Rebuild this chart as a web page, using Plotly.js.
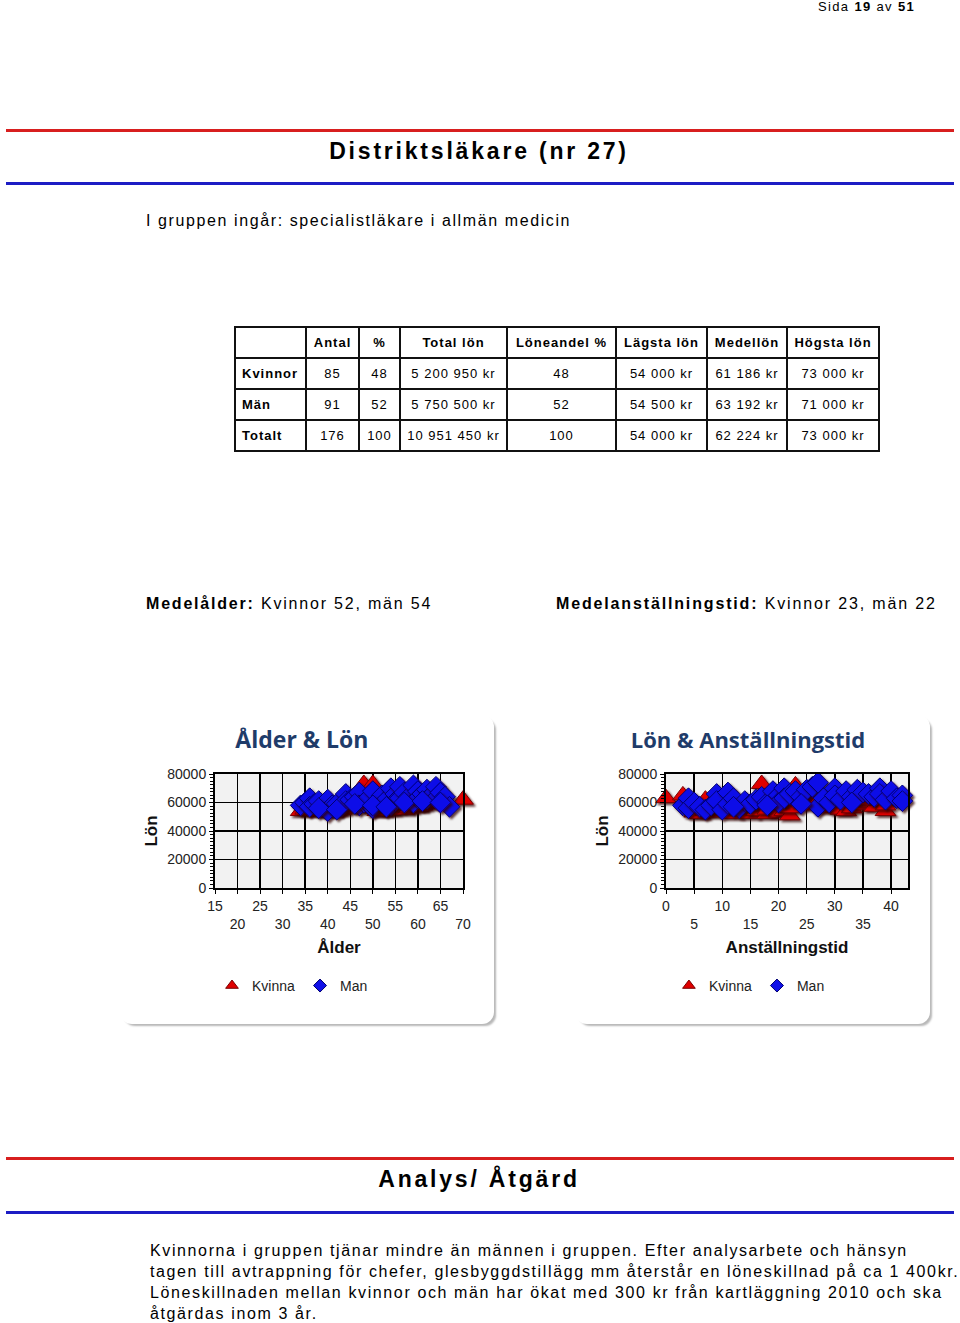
<!DOCTYPE html>
<html>
<head>
<meta charset="utf-8">
<script src="https://cdn.plot.ly/plotly-3.0.1.min.js"></script>
<style>
  html, body { margin:0; padding:0; background:#fff; }
  body { width:960px; height:1323px; position:relative; overflow:hidden; font-family:'Liberation Sans', Arial, sans-serif; color:#000; }
  .abs { position:absolute; white-space:nowrap; }
  .rule { position:absolute; left:6px; width:948px; height:3px; }
  .red { background:#d81f1f; }
  .blue { background:#1c1cc4; }
  table.stat { position:absolute; left:234px; top:326px; width:645px; table-layout:fixed; border-collapse:collapse; font-size:13px; letter-spacing:1px; }
  table.stat tr { height:31px; }
  table.stat td { border:2px solid #111; padding:0; text-align:center; overflow:hidden; white-space:nowrap; }
  table.stat td.rh { text-align:left; padding-left:6px; font-weight:bold; }
  table.stat tr.hd td { font-weight:bold; }
  .panel { position:absolute; background:#fff; border-radius:12px; box-shadow:3px 3px 2px -1px #b8b8b8; }
  .chart { position:absolute; }
  .scatterlayer .point, .legend .scatterpts path { filter: url(#mshadow); }
</style>
</head>
<body>
<svg width="0" height="0" style="position:absolute">
  <defs>
    <filter id="mshadow" x="-50%" y="-50%" width="200%" height="200%">
      <feDropShadow dx="2" dy="2" stdDeviation="1" flood-color="#300000" flood-opacity="0.75"/>
    </filter>
  </defs>
</svg>
<div class="abs" style="left:818px; top:-1px; font-size:13px; letter-spacing:1.35px;">Sida <b>19</b> av <b>51</b></div>

<div class="rule red" style="top:129px;"></div>
<div class="abs" style="left:0; width:958px; text-align:center; top:138px; font-size:23px; font-weight:bold; letter-spacing:2.8px;">Distriktsläkare (nr 27)</div>
<div class="rule blue" style="top:182px;"></div>

<div class="abs" style="left:146px; top:212px; font-size:16px; letter-spacing:1.6px;">I gruppen ingår: specialistläkare i allmän medicin</div>

<table class="stat" id="stat"></table>

<div class="abs" style="left:146px; top:595px; font-size:16px; letter-spacing:1.8px;"><b>Medelålder:</b> Kvinnor 52, män 54</div>
<div class="abs" style="left:556px; top:595px; font-size:16px; letter-spacing:1.85px;"><b>Medelanställningstid:</b> Kvinnor 23, män 22</div>

<div class="panel" style="left:120px; top:715px; width:374px; height:309px;"></div>
<div class="panel" style="left:575px; top:715px; width:355px; height:309px;"></div>
<div id="c1" class="chart" style="left:120px; top:715px; width:375px; height:310px;"></div>
<div id="c2" class="chart" style="left:575px; top:715px; width:356px; height:310px;"></div>

<div class="rule red" style="top:1157px;"></div>
<div class="abs" style="left:0; width:958px; text-align:center; top:1166px; font-size:23px; font-weight:bold; letter-spacing:2.8px;">Analys/ Åtgärd</div>
<div class="rule blue" style="top:1211px;"></div>

<div class="abs" style="left:150px; top:1240px; font-size:16px; line-height:21px; letter-spacing:1.62px;">Kvinnorna i gruppen tjänar mindre än männen i gruppen. Efter analysarbete och hänsyn<br>tagen till avtrappning för chefer, glesbyggdstillägg mm återstår en löneskillnad på ca 1 400kr.<br>Löneskillnaden mellan kvinnor och män har ökat med 300 kr från kartläggning 2010 och ska<br>åtgärdas inom 3 år.</div>

<script>
// ---- table data ----
const tableHeader = ['', 'Antal', '%', 'Total lön', 'Löneandel %', 'Lägsta lön', 'Medellön', 'Högsta lön'];
const rowKvinnor = ['Kvinnor', '85', '48', '5 200 950 kr', '48', '54 000 kr', '61 186 kr', '73 000 kr'];
const rowMan = ['Män', '91', '52', '5 750 500 kr', '52', '54 500 kr', '63 192 kr', '71 000 kr'];
const rowTotalt = ['Totalt', '176', '100', '10 951 450 kr', '100', '54 000 kr', '62 224 kr', '73 000 kr'];

// ---- chart 1: Ålder & Lön ----
const kvinnaAlder = [34,35,36,37,38,39,40,41,42,43,44,45,46,47,48,48,49,50,50,51,52,52,53,54,55,55,56,57,58,58,59,60,61,61,62,63,64,65,70,36,38,41,44,46,49,51,53,56,58,60,62,63];
const kvinnaLonAlder = [54000,55000,54500,56000,54000,55000,54000,54000,54500,55000,57000,56000,58000,60000,73000,62000,58000,73000,56000,54000,54000,60000,55000,54500,56000,62000,57000,55000,56000,63000,58000,57000,58000,64000,59000,60000,61000,63000,62000,60000,58000,57000,62000,64000,61000,57000,58000,59000,60000,58000,61000,66000];
const manAlder = [34,35,36,36,37,38,39,40,40,41,42,43,44,44,45,46,47,47,48,49,50,50,51,52,52,53,54,54,55,55,56,56,57,58,59,59,60,60,61,62,62,63,64,64,65,66,67,38,42,46,50,53,57,61,65];
const manLonAlder = [58000,60000,63000,57000,59000,61000,57000,62000,54000,58000,59000,57000,66000,61000,62000,64000,67000,58000,60000,63000,68000,56000,61000,60000,65000,62000,70000,58000,66000,61000,71000,63000,67000,64000,72000,60000,68000,63000,66000,69000,62000,65000,71000,63000,67000,64000,57000,56000,55000,59000,58000,57000,60000,61000,60000];

// ---- chart 2: Lön & Anställningstid ----
const kvinnaAnst = [0,3,5,6,7,7,8,9,10,11,12,12,13,15,15,16,17,17,18,18,19,20,21,21,22,22,23,24,25,26,28,29,30,31,32,33,35,36,37,38,39,39,14,20,27,34];
const kvinnaLonAnst = [63000,65000,53000,52000,54000,62000,53000,55000,56000,54000,52000,57000,55000,52000,56000,54000,73000,58000,52000,55000,57000,53000,54000,58000,51000,56000,72000,60000,64000,58000,56000,59000,57000,55000,54000,56000,58000,60000,57000,61000,54000,58000,59000,60000,61000,62000];
const manAnst = [3,4,4,5,6,7,8,9,9,10,11,11,12,13,14,15,16,17,18,19,20,20,21,21,22,23,24,25,26,27,27,28,29,30,30,31,32,33,34,35,36,37,38,38,39,40,41,42,42,12,18,24,33];
const manLonAnst = [58000,63000,56000,60000,57000,55000,58000,66000,61000,55000,67000,59000,63000,56000,61000,59000,62000,64000,60000,68000,65000,60000,70000,63000,66000,68000,64000,69000,71000,74000,57000,63000,60000,70000,65000,62000,68000,64000,69000,67000,66000,64000,70000,66000,62000,68000,63000,65000,61000,57000,58000,59000,60000];

// tick labels
const alderTickVals = [15,20,25,30,35,40,45,50,55,60,65,70];
const alderTickText = ['15','<br>20','25','<br>30','35','<br>40','45','<br>50','55','<br>60','65','<br>70'];
const anstTickVals = [0,5,10,15,20,25,30,35,40];
const anstTickText = ['0','<br>5','10','<br>15','20','<br>25','30','<br>35','40'];
const lonTickVals = [0,20000,40000,60000,80000];

// build table
(function(){
  const t = document.getElementById('stat');
  const widths = [71,53,41,107,109,91,80,92];
  const cg = document.createElement('colgroup');
  widths.forEach(w => { const c = document.createElement('col'); c.style.width = w + 'px'; cg.appendChild(c); });
  t.appendChild(cg);
  const rows = [tableHeader, rowKvinnor, rowMan, rowTotalt];
  rows.forEach((r, ri) => {
    const tr = document.createElement('tr');
    if (ri === 0) tr.className = 'hd';
    r.forEach((c, ci) => {
      const td = document.createElement('td');
      td.textContent = c;
      if (ci === 0) td.className = 'rh';
      tr.appendChild(td);
    });
    t.appendChild(tr);
  });
})();

const tickFont = {family:'Liberation Sans, Arial, sans-serif', size:14, color:'#222'};
const axTitleFont = {family:'Liberation Sans, Arial, sans-serif', size:17, color:'#111', weight:'bold'};

const kvMarker = {symbol:'triangle-up', color:'#e00000', line:{color:'#7a0000', width:1}};
const manMarker = {symbol:'diamond', color:'#1010e8', line:{color:'#000070', width:1}};

function traces(kx, ky, mx, my) {
  return [
    {x:kx, y:ky, type:'scatter', mode:'markers', name:'Kvinna', cliponaxis:false, showlegend:false,
      marker:Object.assign({size:18}, kvMarker)},
    {x:mx, y:my, type:'scatter', mode:'markers', name:'Man', cliponaxis:false, showlegend:false,
      marker:Object.assign({size:16}, manMarker)},
    {x:[null], y:[null], type:'scatter', mode:'markers', name:'Kvinna', marker:Object.assign({size:11}, kvMarker)},
    {x:[null], y:[null], type:'scatter', mode:'markers', name:'Man', marker:Object.assign({size:10}, manMarker)}
  ];
}

function makeLayout(title, titleSize, titleX, legX, xTitle, xRange, tv, tt, m) {
  return {
    width:m.w, height:310,
    margin:{l:m.l, r:m.r, t:59, b:137},
    paper_bgcolor:'rgba(0,0,0,0)', plot_bgcolor:'#f2f2f2',
    title:{text:title, font:{family:'Open Sans, sans-serif', size:titleSize, color:'#1f3c6a', weight:'bold'},
      xref:'container', x:titleX, xanchor:'center', yref:'container', y:0.919, yanchor:'middle'},
    xaxis:{range:xRange, tickvals:tv, ticktext:tt, showgrid:true, gridcolor:'#000', gridwidth:1.5,
      showline:true, linecolor:'#000', linewidth:2, mirror:true, ticks:'outside', ticklen:4, tickcolor:'#000',
      tickfont:tickFont, zeroline:false, fixedrange:true,
      title:{text:xTitle, font:axTitleFont, standoff:10}},
    yaxis:{range:[0,80000], tickvals:lonTickVals, tickformat:'d', showgrid:true, gridcolor:'#000', gridwidth:1.5,
      showline:true, linecolor:'#000', linewidth:2, mirror:true, ticks:'outside', ticklen:4, tickcolor:'#000',
      minor:{dtick:2500, ticks:'outside', ticklen:3, tickcolor:'#000', showgrid:false},
      tickfont:tickFont, zeroline:false, fixedrange:true,
      title:{text:'Lön', font:axTitleFont, standoff:5}},
    showlegend:true,
    legend:{orientation:'h', xref:'container', x:legX, xanchor:'center', yref:'container', y:0.126, yanchor:'middle',
      font:{family:'Liberation Sans, Arial, sans-serif', size:14, color:'#222'}, bgcolor:'rgba(0,0,0,0)'}
  };
}

Plotly.newPlot('c1', traces(kvinnaAlder, kvinnaLonAlder, manAlder, manLonAlder),
  makeLayout('Ålder & Lön', 23, 0.485, 0.46, 'Ålder', [15,70], alderTickVals, alderTickText, {w:375, l:95, r:32}),
  {staticPlot:true});
Plotly.newPlot('c2', traces(kvinnaAnst, kvinnaLonAnst, manAnst, manLonAnst),
  makeLayout('Lön & Anställningstid', 22, 0.486, 0.49, 'Anställningstid', [0,43], anstTickVals, anstTickText, {w:356, l:91, r:23}),
  {staticPlot:true});
</script>
</body>
</html>
